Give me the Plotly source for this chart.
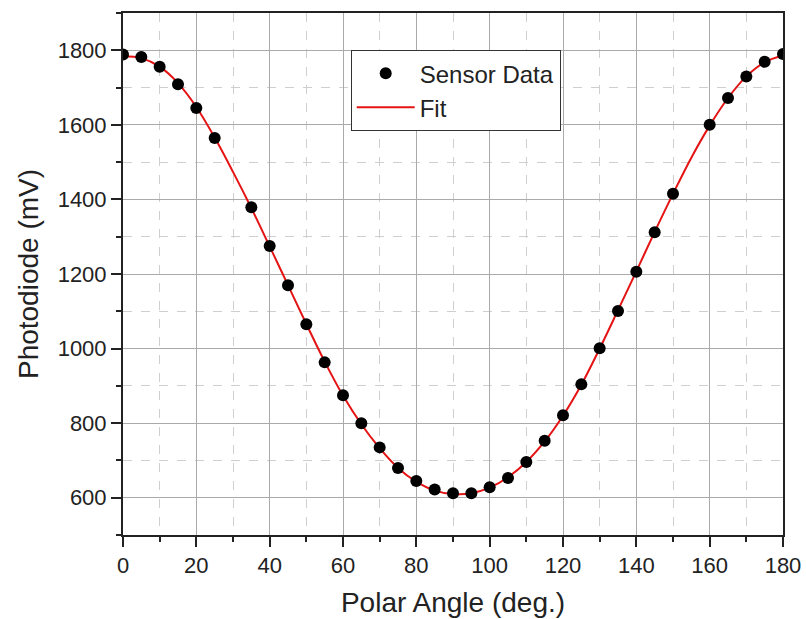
import plotly.graph_objects as go

# Sensor data (polar angle in deg, photodiode in mV)
angle = [0, 5, 10, 15, 20, 25, 35, 40, 45, 50, 55, 60, 65, 70, 75, 80, 85, 90,
         95, 100, 105, 110, 115, 120, 125, 130, 135, 140, 145, 150, 160, 165,
         170, 175, 180]
signal = [1789, 1782, 1756, 1709, 1645, 1565, 1379, 1275, 1170, 1065, 963, 875,
          800, 735, 680, 645, 622, 612, 612, 628, 653, 696, 753, 821, 904, 1001,
          1101, 1206, 1312, 1415, 1600, 1672, 1730, 1769, 1790]

# Fit curve
fit_angle = [0, 5, 10, 15, 20, 25, 30, 35, 40, 45, 50, 55, 60, 65, 70, 75, 80,
             85, 90, 95, 100, 105, 110, 115, 120, 125, 130, 135, 140, 145, 150,
             155, 160, 165, 170, 175, 180]
fit_signal = [1784, 1779, 1756, 1712, 1648, 1566, 1474, 1377, 1274, 1170, 1066,
              965, 874, 797, 733, 680, 643, 619, 610, 612, 627, 655, 696, 751,
              820, 903, 1000, 1103, 1207, 1313, 1415, 1512, 1598, 1672, 1730,
              1768, 1786]

x_ticks = [0, 20, 40, 60, 80, 100, 120, 140, 160, 180]
y_ticks = [600, 800, 1000, 1200, 1400, 1600, 1800]

FONT = "Liberation Sans, Arial, sans-serif"
RED = "rgb(228,20,20)"
INK = "#222222"

fig = go.Figure()
fig.add_trace(go.Scatter(
    x=fit_angle, y=fit_signal, mode="lines", name="Fit",
    line=dict(color=RED, width=2, shape="spline", smoothing=1.0),
))
fig.add_trace(go.Scatter(
    x=angle, y=signal, mode="markers", name="Sensor Data",
    marker=dict(color="black", size=12),
))

axis_common = dict(
    showline=True, linecolor=INK, linewidth=2, mirror=True,
    ticks="outside", ticklen=10, tickwidth=2, tickcolor=INK,
    showgrid=True, gridcolor="#aaaaaa", gridwidth=1,
    tickfont=dict(family=FONT, size=22, color=INK),
    zeroline=False, automargin=False,
)
minor_common = dict(ticks="outside", ticklen=5, tickwidth=2, tickcolor=INK,
                    showgrid=True, gridcolor="#cfcfcf", griddash="dash",
                    gridwidth=1)

fig.update_xaxes(
    range=[0, 180], tickvals=x_ticks,
    minor=dict(dtick=10, tick0=0, **minor_common),
    title=dict(text="Polar Angle (deg.)",
               font=dict(family=FONT, size=28, color=INK), standoff=15),
    **axis_common,
)
fig.update_yaxes(
    range=[500, 1900], tickvals=y_ticks,
    minor=dict(dtick=100, tick0=0, **minor_common),
    title=dict(text="Photodiode (mV)",
               font=dict(family=FONT, size=28, color=INK), standoff=11),
    **axis_common,
)

fig.update_layout(
    width=806, height=619,
    margin=dict(l=123, r=23, t=13, b=84),
    paper_bgcolor="white", plot_bgcolor="white",
    showlegend=True,
    legend=dict(
        x=0.345, y=0.929, xanchor="left", yanchor="top",
        bgcolor="white", bordercolor="#333333", borderwidth=1,
        font=dict(family=FONT, size=24, color=INK),
        traceorder="reversed", itemwidth=58, tracegroupgap=0,
    ),
)

fig.write_html(
    "out.html",
    config={"displayModeBar": False},
    post_script="document.body.style.margin='0';document.body.style.overflow='hidden';",
)
